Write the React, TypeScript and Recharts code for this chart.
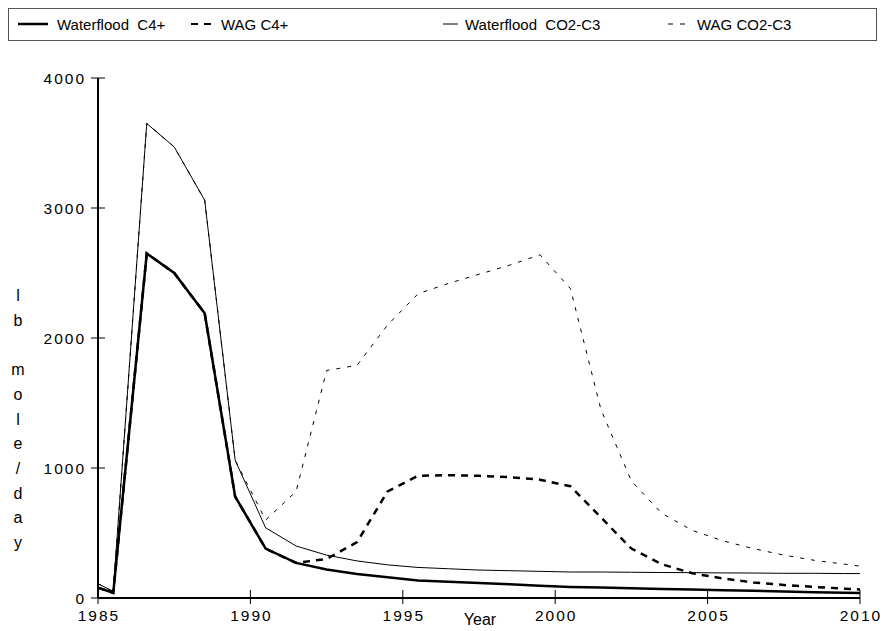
import React from "react";
import { LineChart, Line, XAxis, YAxis } from "recharts";

const years = [
  1985, 1985.5, 1986.6, 1987.5, 1988.5, 1989.5, 1990.5, 1991.5, 1992.5, 1993.5,
  1994.5, 1995.5, 1996.5, 1997.5, 1998.5, 1999.5, 2000.5, 2001.5, 2002.5,
  2003.5, 2004.5, 2005.5, 2006.5, 2007.5, 2008.5, 2009.5, 2010,
];
const waterC4 = [
  80, 40, 2650, 2500, 2190, 780, 380, 270, 220, 185, 160, 135, 125, 115, 105,
  95, 85, 80, 75, 70, 65, 60, 55, 50, 45, 40, 38,
];
const wagC4 = [
  80, 40, 2650, 2500, 2190, 780, 380, 270, 300, 430, 820, 940, 945, 940, 930,
  910, 860, 620, 380, 260, 190, 150, 120, 100, 85, 72, 65,
];
const waterCO2 = [
  110, 50, 3650, 3470, 3060, 1060, 540, 400, 330, 285, 255, 235, 225, 215, 210,
  205, 200, 200, 198, 196, 195, 193, 192, 190, 190, 188, 188,
];
const wagCO2 = [
  110, 50, 3650, 3470, 3060, 1060, 600, 820, 1750, 1790, 2100, 2340, 2420,
  2490, 2560, 2640, 2380, 1450, 900, 650, 520, 440, 380, 330, 290, 260, 245,
];
const xTicks = [1985, 1990, 1995, 2000, 2005, 2010];
const yTicks = [0, 1000, 2000, 3000, 4000];
const yLabel = ["l", "b", "", "m", "o", "l", "e", "/", "d", "a", "y"];

const data = years.map((year, i) => ({
  year,
  waterC4: waterC4[i],
  wagC4: wagC4[i],
  waterCO2: waterCO2[i],
  wagCO2: wagCO2[i],
}));

const FONT = "'Liberation Sans', Arial, sans-serif";

const XTick = (props: any) => {
  const { x, y, payload } = props;
  return (
    <g>
      <line x1={x} x2={x} y1={y - 8} y2={y + 6} stroke="#000" strokeWidth={1} />
      <text
        x={x + 1}
        y={y + 23}
        textAnchor="middle"
        fontSize={15.5}
        letterSpacing={2}
        fontFamily={FONT}
        fill="#000"
      >
        {payload.value}
      </text>
    </g>
  );
};

const YTick = (props: any) => {
  const { x, y, payload } = props;
  return (
    <g>
      <line x1={x - 7} x2={x + 7} y1={y} y2={y} stroke="#000" strokeWidth={1} />
      <text
        x={x - 12}
        y={y + 5.5}
        textAnchor="end"
        fontSize={15.5}
        letterSpacing={2}
        fontFamily={FONT}
        fill="#000"
      >
        {payload.value}
      </text>
    </g>
  );
};

const legendItems = [
  { label: "Waterflood  C4+", x: 18, w: 30, sw: 2.5, dash: undefined, tx: 57 },
  { label: "WAG C4+", x: 191, w: 23, sw: 2, dash: "7 6", tx: 221 },
  { label: "Waterflood  CO2-C3", x: 443, w: 15, sw: 1, dash: undefined, tx: 465 },
  { label: "WAG CO2-C3", x: 668, w: 22, sw: 1, dash: "5 7", tx: 697 },
];

export default function App() {
  return (
    <div
      style={{
        position: "absolute",
        left: 0,
        top: 0,
        width: 885,
        height: 631,
        background: "#fff",
        fontFamily: FONT,
      }}
    >
      <svg
        width={885}
        height={50}
        style={{ position: "absolute", left: 0, top: 0 }}
      >
        <rect x={8.5} y={8.5} width={868} height={32} fill="none" stroke="#555" strokeWidth={1} />
        {legendItems.map((it) => (
          <g key={it.label}>
            <line
              x1={it.x}
              x2={it.x + it.w}
              y1={24}
              y2={24}
              stroke="#000"
              strokeWidth={it.sw}
              strokeDasharray={it.dash}
            />
            <text
              x={it.tx}
              y={29.5}
              fontSize={15}
              fontFamily={FONT}
              fill="#000"
              style={{ whiteSpace: "pre" }}
            >
              {it.label}
            </text>
          </g>
        ))}
      </svg>

      <div style={{ position: "absolute", left: 0, top: 0 }}>
        <LineChart
          width={885}
          height={631}
          data={data}
          margin={{ top: 78, right: 25, left: 38, bottom: 0 }}
        >
          <XAxis
            dataKey="year"
            type="number"
            domain={[1985, 2010]}
            ticks={xTicks}
            tick={<XTick />}
            tickLine={false}
            tickSize={0}
            tickMargin={0}
            height={33}
            axisLine={{ stroke: "#000", strokeWidth: 2 }}
            allowDataOverflow
          />
          <XAxis
            xAxisId="top"
            dataKey="year"
            type="number"
            orientation="top"
            domain={[1985, 2010]}
            tick={false}
            tickLine={false}
            height={0}
            axisLine={{ stroke: "#000", strokeWidth: 1.5 }}
          />
          <YAxis
            type="number"
            domain={[0, 4000]}
            ticks={yTicks}
            tick={<YTick />}
            tickLine={false}
            tickSize={0}
            tickMargin={0}
            width={60}
            axisLine={{ stroke: "#000", strokeWidth: 2 }}
          />
          <YAxis
            yAxisId="right"
            orientation="right"
            type="number"
            domain={[0, 4000]}
            tick={false}
            tickLine={false}
            width={0}
            axisLine={{ stroke: "#000", strokeWidth: 2 }}
          />
          <Line
            dataKey="waterCO2"
            stroke="#000"
            strokeWidth={1}
            dot={false}
            type="linear"
            isAnimationActive={false}
          />
          <Line
            dataKey="wagCO2"
            stroke="#000"
            strokeWidth={1}
            strokeDasharray="4 7"
            dot={false}
            type="linear"
            isAnimationActive={false}
          />
          <Line
            dataKey="waterC4"
            stroke="#000"
            strokeWidth={2.5}
            dot={false}
            type="linear"
            isAnimationActive={false}
          />
          <Line
            dataKey="wagC4"
            stroke="#000"
            strokeWidth={2.5}
            strokeDasharray="7 6"
            dot={false}
            type="linear"
            isAnimationActive={false}
          />
        </LineChart>
      </div>

      {yLabel.map((ch, i) => (
        <div
          key={i}
          style={{
            position: "absolute",
            left: 10,
            width: 16,
            top: 287 + i * 24.7,
            textAlign: "center",
            fontSize: 16,
            lineHeight: "18px",
          }}
        >
          {ch}
        </div>
      ))}

      <div
        style={{
          position: "absolute",
          left: 455,
          top: 611,
          width: 50,
          textAlign: "center",
          fontSize: 16,
          lineHeight: "18px",
        }}
      >
        Year
      </div>
    </div>
  );
}
